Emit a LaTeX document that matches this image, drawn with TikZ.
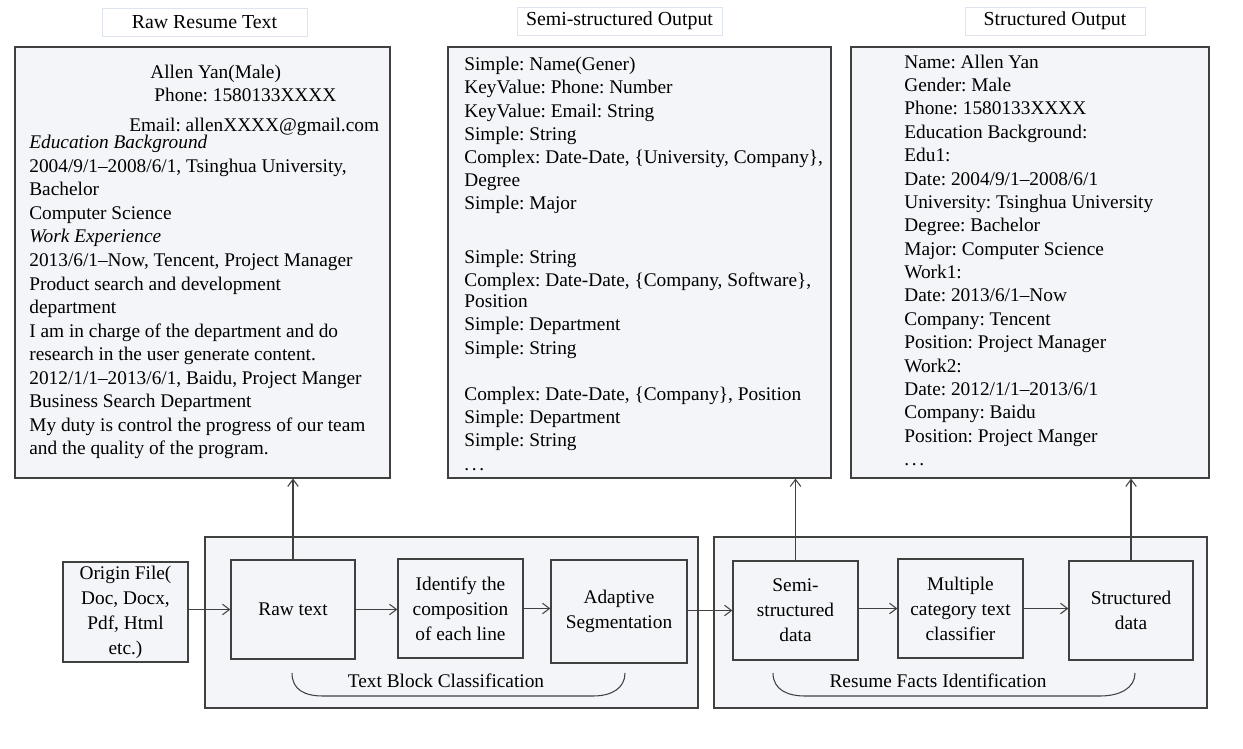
\documentclass[tikz,border=0pt]{standalone}
\usepackage{fontspec}
\setmainfont{Liberation Serif}
\frenchspacing
\usetikzlibrary{arrows.meta}
\definecolor{boxfill}{HTML}{F4F5F9}
\definecolor{boxline}{HTML}{404040}
\definecolor{ttlline}{HTML}{DDE4EE}
\newcommand{\moredots}{.\kern1.5pt.\kern1.5pt.}

\begin{document}
\begin{tikzpicture}[x=0.02cm, y=-0.02cm, >={Straight Barb[length=4pt,width=6pt]},
  every node/.style={font=\fontsize{11}{13.3}\selectfont},
  ttl/.style={rectangle,draw=ttlline,fill=white,line width=0.5pt,minimum height=0.56cm,inner sep=0pt,font=\fontsize{11.3}{13}\selectfont},
  outbox/.style={rectangle,draw=boxline,fill=boxfill,line width=0.7pt,inner sep=0pt},
  content/.style={anchor=north west,align=left,inner sep=0pt},
  stage/.style={rectangle,draw=boxline,fill=boxfill,line width=0.7pt,align=center,inner sep=0pt,font=\fontsize{11}{14.2}\selectfont},
  flow/.style={->,draw=boxline,line width=0.6pt},
  brace/.style={draw=boxline,line width=0.6pt}]

\useasboundingbox (0,0) rectangle (1243,749);

% Output titles
\node[ttl,minimum width=4.1cm] (ttlraw) at (204.5,22) {Raw Resume Text};
\node[ttl,minimum width=4.1cm] (ttlsemi) at (619.5,21) {Semi-structured Output};
\node[ttl,minimum width=3.6cm] (ttlstr) at (1055,21) {Structured Output};

% Output boxes
\node[outbox,minimum width=7.5cm,minimum height=8.62cm] (rawbox) at (202.5,262.5) {};
\node[outbox,minimum width=7.66cm,minimum height=8.62cm] (semibox) at (639.5,262.5) {};
\node[outbox,minimum width=7.16cm,minimum height=8.62cm] (strbox) at (1030,262.5) {};

% Raw resume
\node[anchor=base west,inner sep=0pt] (rawname) at (150,79) {Allen Yan(Male)};
\node[anchor=base west,inner sep=0pt] (rawphone) at (154,101.5) {Phone: 1580133XXXX};
\node[anchor=base west,inner sep=0pt] (rawmail) at (129,131.5) {Email: allenXXXX@gmail.com};
\node[content,font=\fontsize{11}{13.4}\selectfont] (rawtxt) at (29,135) {\textit{Education Background}\\
2004/9/1--2008/6/1, Tsinghua University,\\
Bachelor\\
Computer Science\\
\textit{Work Experience}\\
2013/6/1--Now, Tencent, Project Manager\\
Product search and development\\
department\\
I am in charge of the department and do\\
research in the user generate content.\\
2012/1/1--2013/6/1, Baidu, Project Manger\\
Business Search Department\\
My duty is control the progress of our team\\
and the quality of the program.};

% Semi-structured output
\node[content,font=\fontsize{11}{13.2}\selectfont] (semitxt) at (464,57) {Simple: Name(Gener)\\
KeyValue: Phone: Number\\
KeyValue: Email: String\\
Simple: String\\
Complex: Date-Date, \{University, Company\},\\
Degree\\
Simple: Major\\[17.4pt]
Simple: String\\
Complex: Date-Date, \{Company, Software\},\\[-1.3pt]
Position\\
Simple: Department\\
Simple: String\\[13.2pt]
Complex: Date-Date, \{Company\}, Position\\
Simple: Department\\
Simple: String\\
\moredots};

% Structured output
\node[content] (strtxt) at (904,54.5) {Name: Allen Yan\\
Gender: Male\\
Phone: 1580133XXXX\\
Education Background:\\
Edu1:\\
Date: 2004/9/1--2008/6/1\\
University: Tsinghua University\\
Degree: Bachelor\\
Major: Computer Science\\
Work1:\\
Date: 2013/6/1--Now\\
Company: Tencent\\
Position: Project Manager\\
Work2:\\
Date: 2012/1/1--2013/6/1\\
Company: Baidu\\
Position: Project Manger\\
\moredots};

% Pipeline groups
\node[outbox,minimum width=9.86cm,minimum height=3.42cm] (tbc) at (451.5,622.5) {};
\node[outbox,minimum width=9.86cm,minimum height=3.42cm] (rfi) at (960.5,622.5) {};

% Pipeline stages
\node[stage,minimum width=2.5cm,minimum height=2cm] (origin) at (125.5,612) {Origin File(\\Doc, Docx,\\Pdf, Html\\etc.)};
\node[stage,minimum width=2.48cm,minimum height=1.98cm] (rawtext) at (293,609.5) {Raw text};
\node[stage,minimum width=2.5cm,minimum height=1.98cm] (ident) at (460.5,608.5) {Identify the\\composition\\of each line};
\node[stage,minimum width=2.72cm,minimum height=2.06cm] (adapt) at (619,611.5) {Adaptive\\Segmentation};
\node[stage,minimum width=2.5cm,minimum height=1.98cm] (semidata) at (795.5,610.5) {Semi-\\structured\\data};
\node[stage,minimum width=2.5cm,minimum height=1.98cm] (multi) at (960.5,608.5) {Multiple\\category text\\classifier};
\node[stage,minimum width=2.48cm,minimum height=1.98cm] (strdata) at (1131,610.5) {Structured\\data};

\draw[flow] (rawtext.west -| origin.east) -- (rawtext.west);
\draw[flow] (rawtext.east) -- (rawtext.east -| ident.west);
\draw[flow] (ident.east) -- (ident.east -| adapt.west);
\draw[flow] (semidata.west -| adapt.east) -- (semidata.west);
\draw[flow] (multi.west -| semidata.east) -- (multi.west);
\draw[flow] (multi.east) -- (multi.east -| strdata.west);

% Up to the outputs
\draw[flow] (rawtext.north) -- (rawtext.north |- rawbox.south);
\draw[flow] (semidata.north) -- (semidata.north |- semibox.south);
\draw[flow] (strdata.north) -- (strdata.north |- strbox.south);

% Group braces
\draw[brace] (292,673) .. controls (292,690) and (305,696) .. (323,696) -- (593,696) .. controls (612,696) and (625,688) .. (625,673);
\node[anchor=base] (tbclabel) at (446,687) {Text Block Classification};
\draw[brace] (773,673) .. controls (773,690) and (788,696) .. (805,696) -- (1100,696) .. controls (1120,696) and (1135,688) .. (1135,673);
\node[anchor=base] (rfilabel) at (938,687) {Resume Facts Identification};

\end{tikzpicture}
\end{document}
